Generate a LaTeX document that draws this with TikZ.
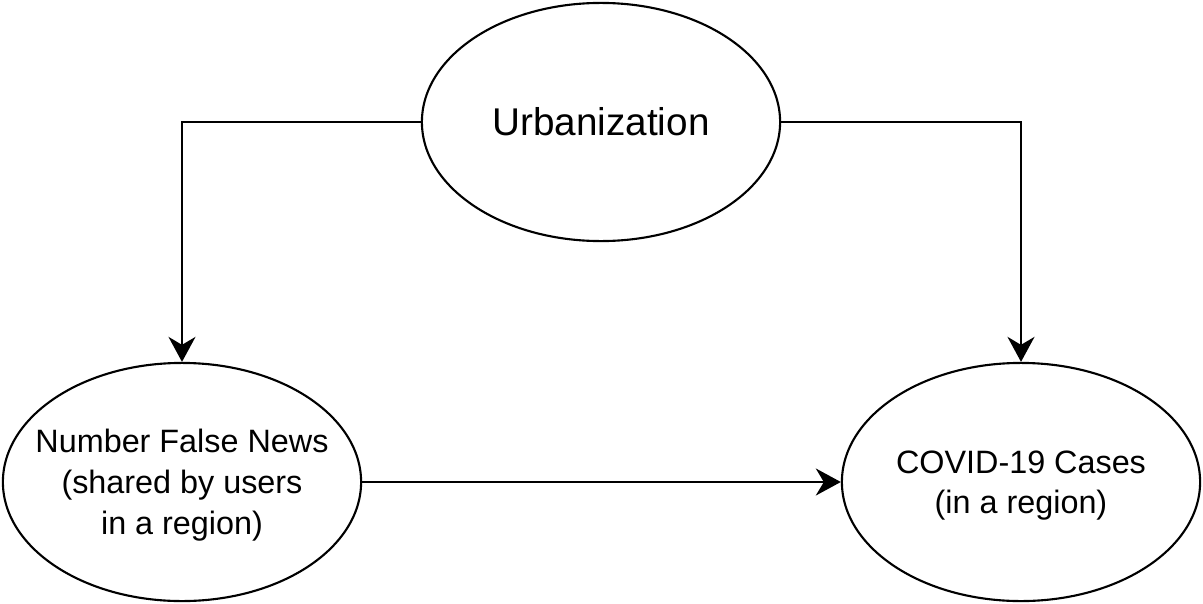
\documentclass[tikz,border=0pt]{standalone}
\usepackage{fontspec}
\setmainfont{Liberation Sans}
\usetikzlibrary{shapes.geometric, arrows.meta, positioning}

% centred lines that do not widen the ellipse
\newcommand{\factortext}[1]{\makebox[0pt]{\begin{tabular}{@{}c@{}}\rule{0pt}{10pt}#1\end{tabular}}}

\begin{document}
\begin{tikzpicture}[
    x=0.01cm, y=-0.01cm,
    factor/.style={draw, ellipse, line width=0.6pt, minimum width=3.58cm,
                   minimum height=2.38cm, inner sep=0pt,
                   font=\fontsize{9.2}{11.6}\selectfont},
    link/.style={-{Stealth[length=2.5mm, width=2.7mm, inset=0.8mm]}, line width=0.6pt}
]
    \useasboundingbox (0,0) rectangle (1203,603);
    \node[factor, font=\fontsize{11}{13}\selectfont] (urban) at (601,122) {Urbanization};
    \node[factor] (news) at (182,482)
        {\factortext{Number False News\\(shared by users\\in a region)}};
    \node[factor] (covid) at (1021,482) {\factortext{COVID-19 Cases\\(in a region)}};
    \draw[link] (urban.west) -| (news.north);
    \draw[link] (urban.east) -| (covid.north);
    \draw[link] (news.east) -- (covid.west);
\end{tikzpicture}
\end{document}
